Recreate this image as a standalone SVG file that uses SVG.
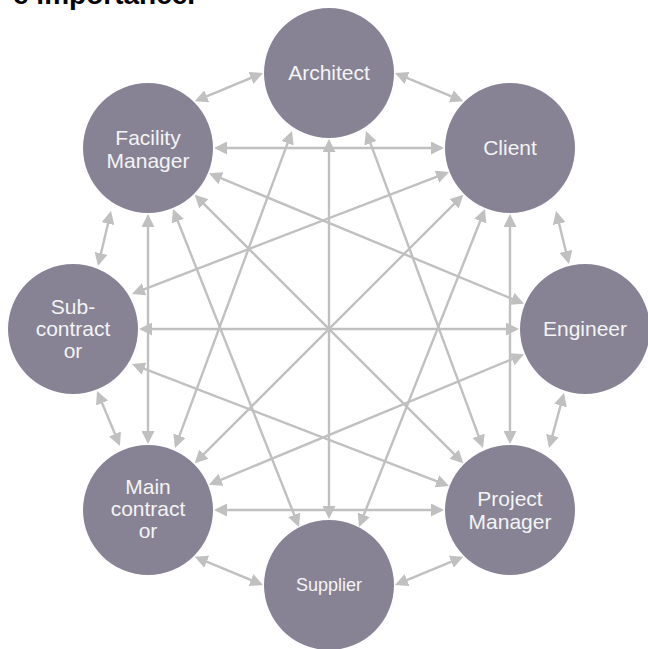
<svg xmlns="http://www.w3.org/2000/svg" width="648" height="649" viewBox="0 0 648 649">
<style>
.n{fill:#878395}
.t{font-family:"Liberation Sans",Arial,sans-serif;font-size:21px;fill:#f4f4f4;text-anchor:middle}
.c line{stroke:#c0c0c0;stroke-width:2.4;marker-start:url(#ah);marker-end:url(#ah)}
.h{font-family:"Liberation Sans",Arial,sans-serif;font-size:28px;font-weight:bold;fill:#000}
</style>
<defs>
<marker id="ah" viewBox="0 0 13 13" refX="10" refY="6.5" markerWidth="13" markerHeight="13" markerUnits="userSpaceOnUse" orient="auto-start-reverse">
<path d="M0,0 L13,6.5 L0,13 z" fill="#c0c0c0"/>
</marker>
</defs>
<rect width="648" height="649" fill="#fff"/>
<text class="h" x="13" y="4">e importance.</text>
<g id="connectors" class="c">
<line x1="217" y1="148" x2="441" y2="148"/>
<line x1="510" y1="217" x2="510" y2="441"/>
<line x1="217" y1="510" x2="441" y2="510"/>
<line x1="148" y1="217" x2="148" y2="441"/>
<line x1="329" y1="142" x2="329" y2="516"/>
<line x1="142" y1="329" x2="516" y2="329"/>
<line x1="196.8" y1="196.8" x2="461.2" y2="461.2"/>
<line x1="461.2" y1="196.8" x2="196.8" y2="461.2"/>
<line x1="367" y1="133.8" x2="482" y2="445.2"/>
<line x1="291" y1="133.8" x2="176" y2="445.2"/>
<line x1="297.9" y1="524.2" x2="174.1" y2="211.8"/>
<line x1="360.1" y1="524.2" x2="483.9" y2="211.8"/>
<line x1="134.8" y1="292.9" x2="446.2" y2="173.1"/>
<line x1="134.8" y1="365.1" x2="446.2" y2="484.9"/>
<line x1="211.75" y1="174.4" x2="521.25" y2="302.6"/>
<line x1="211.75" y1="483.6" x2="521.25" y2="355.4"/>
<line x1="397.8" y1="74.1" x2="460.5" y2="100.2"/>
<line x1="556.7" y1="213.9" x2="568.3" y2="261.1"/>
<line x1="563.2" y1="395.9" x2="549.8" y2="445.1"/>
<line x1="460.5" y1="557.8" x2="397.8" y2="583.9"/>
<line x1="260.2" y1="583.9" x2="197.5" y2="557.8"/>
<line x1="118.8" y1="443.2" x2="98.2" y2="393.8"/>
<line x1="98.7" y1="263.1" x2="110.3" y2="213.9"/>
<line x1="197.5" y1="100.2" x2="260.2" y2="74.1"/>
</g>
<g id="architect"><circle class="n" cx="329" cy="73" r="65"/><text class="t" x="329" y="80">Architect</text></g>
<g id="client"><circle class="n" cx="510" cy="148" r="65"/><text class="t" x="510" y="155">Client</text></g>
<g id="engineer"><circle class="n" cx="585" cy="329" r="65"/><text class="t" x="585" y="336">Engineer</text></g>
<g id="project-manager"><circle class="n" cx="510" cy="510" r="65"/><text class="t" x="510" y="506">Project</text><text class="t" x="510" y="529">Manager</text></g>
<g id="supplier"><circle class="n" cx="329" cy="585" r="65"/><text class="t" x="329" y="591" style="font-size:18px">Supplier</text></g>
<g id="main-contractor"><circle class="n" cx="148" cy="510" r="65"/><text class="t" x="148" y="494">Main</text><text class="t" x="148" y="516">contract</text><text class="t" x="148" y="538">or</text></g>
<g id="sub-contractor"><circle class="n" cx="73" cy="329" r="65"/><text class="t" x="73" y="314">Sub-</text><text class="t" x="73" y="336">contract</text><text class="t" x="73" y="358">or</text></g>
<g id="facility-manager"><circle class="n" cx="148" cy="148" r="65"/><text class="t" x="148" y="145">Facility</text><text class="t" x="148" y="168">Manager</text></g>
</svg>
